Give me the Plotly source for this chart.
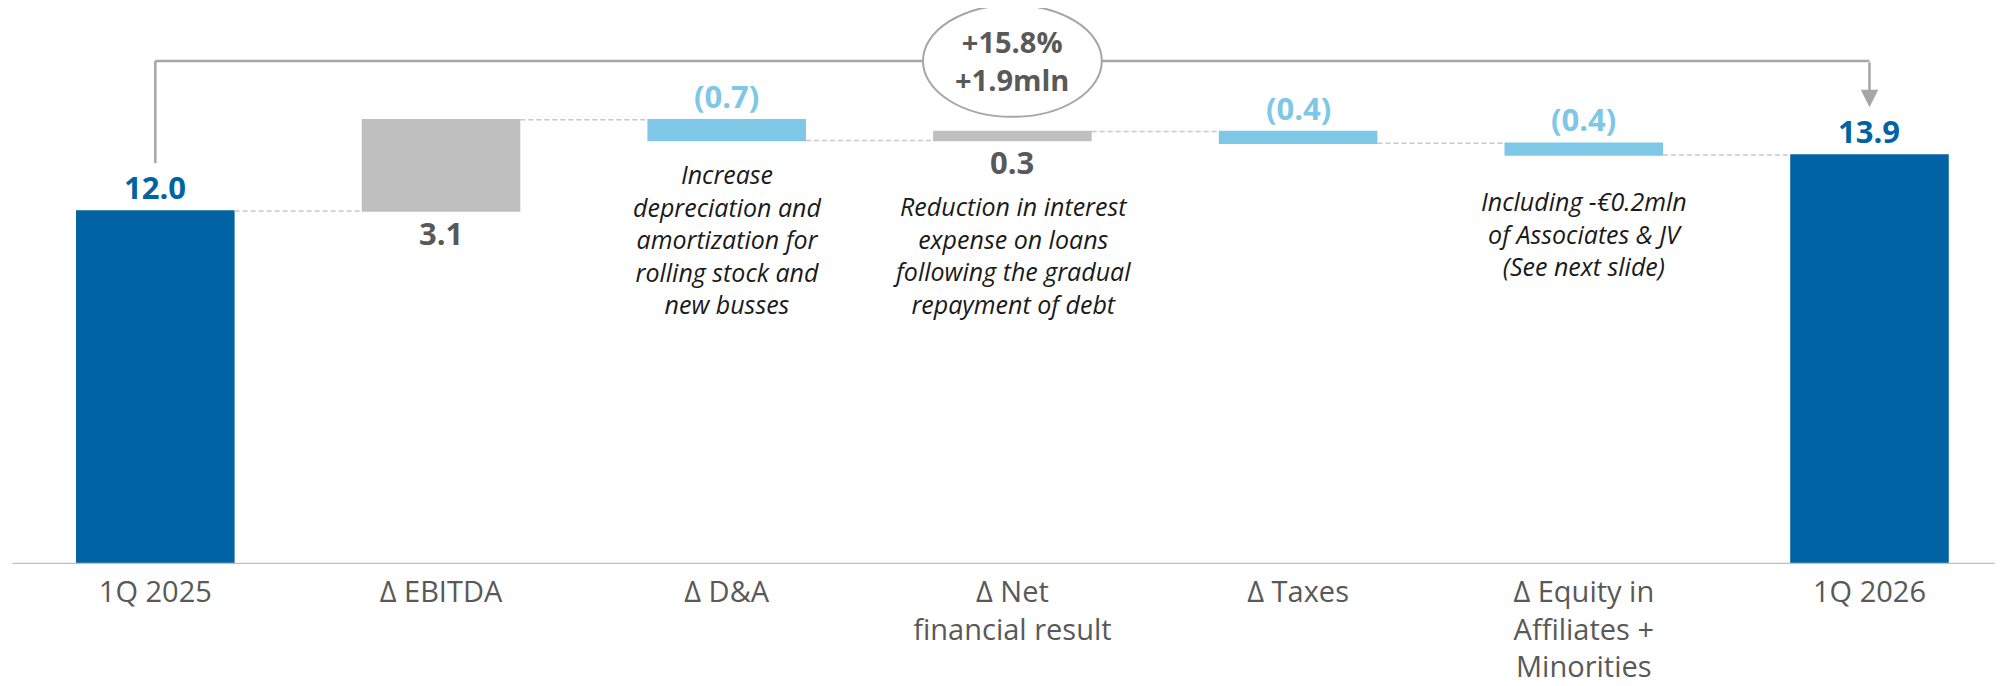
import plotly.graph_objects as go

# ---------------- data ----------------
categories = ["1Q 2025", "Δ EBITDA", "Δ D&A", "Δ Net<br>financial result",
              "Δ Taxes", "Δ Equity in<br>Affiliates +<br>Minorities", "1Q 2026"]
values = [12.0, 3.1, -0.7, 0.3, -0.4, -0.4, 13.9]
measures = ["absolute", "relative", "relative", "relative", "relative", "relative", "total"]
value_labels = ["12.0", "3.1", "(0.7)", "0.3", "(0.4)", "(0.4)", "13.9"]
note_texts = ["", "",
              "Increase<br>depreciation and<br>amortization for<br>rolling stock and<br>new busses",
              "Reduction in interest<br>expense on loans<br>following the gradual<br>repayment of debt",
              "",
              "Including -€0.2mln<br>of Associates & JV<br>(See next slide)",
              ""]
change_pct = "+15.8%"
change_abs = "+1.9mln"

# ---------------- styles ----------------
DARK = "#0063A3"
LIGHT = "#7FC7E6"
GREY_BAR = "#BFBFBF"
GREY_TXT = "#595959"
BRACKET = "#A6A6A6"
FONT = "Open Sans"
note_shift = [0, 0, -15, -47, 0, -27, 0]

# running bar extents
lows, highs = [], []
run = 0.0
for v, m in zip(values, measures):
    if m == "absolute":
        run = v
        lo, hi = 0.0, v
    elif m == "total":
        lo, hi = 0.0, run
    else:
        prev = run
        run = run + v
        lo, hi = min(prev, run), max(prev, run)
    lows.append(lo)
    highs.append(hi)

fig = go.Figure(go.Waterfall(
    x=categories, y=values, measure=measures,
    width=0.555,
    increasing=dict(marker=dict(color=GREY_BAR)),
    decreasing=dict(marker=dict(color=LIGHT)),
    totals=dict(marker=dict(color=DARK)),
    connector=dict(mode="between", line=dict(color="#C8C8C8", width=1.5, dash="5px,3px")),
    hoverinfo="skip", showlegend=False,
))

annotations = []
for i, (m, v, lab) in enumerate(zip(measures, values, value_labels)):
    if m in ("absolute", "total"):
        col, y, ys = DARK, highs[i], 24
    elif v < 0:
        col, y, ys = LIGHT, highs[i], 24
    else:
        col, y, ys = GREY_TXT, lows[i], -22
    annotations.append(dict(x=i, y=y, xref="x", yref="y", text=lab, showarrow=False,
                            yanchor="middle", yshift=ys,
                            font=dict(family=FONT, size=31, color=col, weight="bold")))
    if note_texts[i]:
        annotations.append(dict(x=i, y=lows[i], xref="x", yref="y", text=note_texts[i],
                                showarrow=False, yanchor="top", yshift=note_shift[i],
                                font=dict(family=FONT, size=25, color="#1A1A1A", style="italic")))

# bracket
first_top = highs[0]
last_top = highs[-1]
level = max(highs) + 2.0
gap = 1.63
mid = (len(categories) - 1) / 2
ell_w, ell_h = 0.313, 1.9
shapes = [
    dict(type="line", xref="x", yref="y", x0=0, x1=0, y0=first_top + gap, y1=level,
         line=dict(color=BRACKET, width=2.5)),
    dict(type="line", xref="x", yref="y", x0=0, x1=mid - ell_w, y0=level, y1=level,
         line=dict(color=BRACKET, width=2.5)),
    dict(type="line", xref="x", yref="y", x0=mid + ell_w, x1=len(categories) - 1, y0=level, y1=level,
         line=dict(color=BRACKET, width=2.5)),
    dict(type="circle", xref="x", yref="y", x0=mid - ell_w, x1=mid + ell_w,
         y0=level - ell_h, y1=level + ell_h, line=dict(color=BRACKET, width=2), fillcolor="white"),
    dict(type="line", xref="x", yref="y", x0=-0.5, x1=6.6, y0=0, y1=0,
         line=dict(color="#BFBFBF", width=2.5)),
]
annotations.append(dict(x=len(categories) - 1, y=last_top + gap, ax=len(categories) - 1, ay=level,
                        xref="x", yref="y", axref="x", ayref="y", text="", showarrow=True,
                        arrowhead=2, arrowsize=1.4, arrowwidth=2.5, arrowcolor=BRACKET))
annotations.append(dict(x=mid, y=level, xref="x", yref="y", text=f"{change_pct}<br>{change_abs}",
                        showarrow=False, yanchor="middle",
                        font=dict(family=FONT, size=29, color=GREY_TXT, weight="bold")))

fig.update_layout(
    width=2003, height=686,
    margin=dict(l=0, r=0, t=0, b=130),
    paper_bgcolor="white", plot_bgcolor="white",
    font=dict(family=FONT),
    xaxis=dict(range=[-0.5156, 6.4953], showgrid=False, zeroline=False, showline=False,
               ticks="", tickfont=dict(family=FONT, size=29, color=GREY_TXT),
               ticklabelstandoff=8, fixedrange=True),
    yaxis=dict(range=[0, 18.90], visible=False, fixedrange=True),
    shapes=shapes,
    annotations=annotations,
)

fig.write_html("out.html")
